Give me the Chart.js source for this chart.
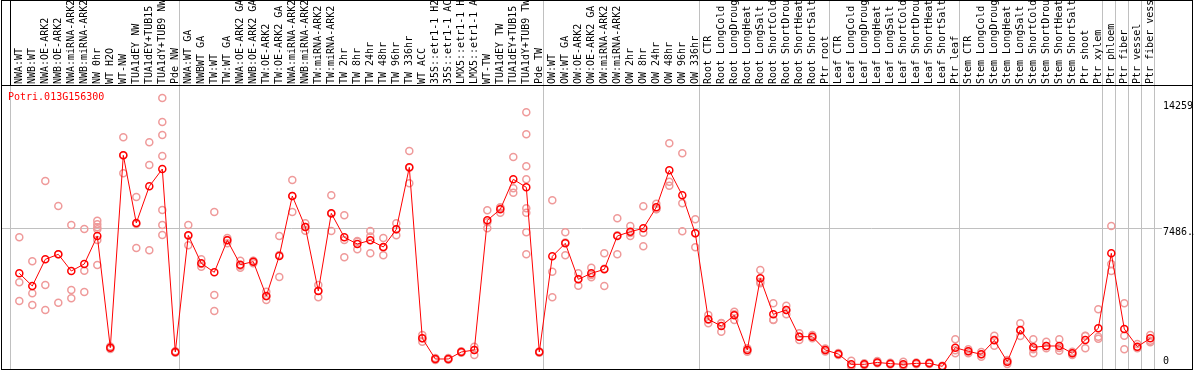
<!DOCTYPE html>
<html>
<head>
<meta charset="utf-8">
<title>Potri.013G156300</title>
<script src="https://cdn.jsdelivr.net/npm/chart.js@4.4.1/dist/chart.umd.min.js"></script>
<style>
  html, body { margin: 0; padding: 0; background: #fff; }
  #wrap { position: relative; width: 1194px; height: 370px; }
  #gene { position: absolute; left: 8px; top: 92px; font: 10px/10px "DejaVu Sans Mono", monospace; color: #ff0000; }
</style>
</head>
<body>
<div id="wrap">
  <canvas id="chart"></canvas>
  <div id="gene">Potri.013G156300</div>
</div>
<script>
const labels = [
  'NWA:WT', 'NWB:WT', 'NWA:OE-ARK2', 'NWB:OE-ARK2', 'NWA:miRNA-ARK2', 'NWB:miRNA-ARK2', 'NW 0hr', 'WT H2O', 'WT-NW',
  'TUA1dEY NW', 'TUA1dEY+TUB15 NW', 'TUA1dY+TUB9 NW', 'Pde NW',
  'NWA:WT GA', 'NWBWT GA', 'TW:WT', 'TW:WT GA', 'NWA:OE-ARK2 GA', 'NWB:OE-ARK2 GA', 'TW:OE-ARK2', 'TW:OE-ARK2 GA',
  'NWA:miRNA-ARK2 GA', 'NWB:miRNA-ARK2 GA', 'TW:miRNA-ARK2', 'TW:miRNA-ARK2 GA', 'TW 2hr', 'TW 8hr', 'TW 24hr', 'TW 48hr',
  'TW 96hr', 'TW 336hr', 'WT ACC', '35S::etr1-1 H2O', '35S::etr1-1 ACC', 'LMX5::etr1-1 H2O', 'LMX5::etr1-1 ACC', 'WT-TW',
  'TUA1dEY TW', 'TUA1dEY+TUB15 TW', 'TUA1dY+TUB9 TW', 'Pde TW',
  'OW:WT', 'OW:WT GA', 'OW:OE-ARK2', 'OW:OE-ARK2 GA', 'OW:miRNA-ARK2', 'OW:miRNA-ARK2 GA', 'OW 2hr', 'OW 8hr', 'OW 24hr',
  'OW 48hr', 'OW 96hr', 'OW 336hr',
  'Root CTR', 'Root LongCold', 'Root LongDrought', 'Root LongHeat', 'Root LongSalt', 'Root ShortCold', 'Root ShortDrought',
  'Root ShortHeat', 'Root ShortSalt', 'Ptr root',
  'Leaf CTR', 'Leaf LongCold', 'Leaf LongDrought', 'Leaf LongHeat', 'Leaf LongSalt', 'Leaf ShortCold', 'Leaf ShortDrought',
  'Leaf ShortHeat', 'Leaf ShortSalt', 'Ptr leaf',
  'Stem CTR', 'Stem LongCold', 'Stem LongDrought', 'Stem LongHeat', 'Stem LongSalt', 'Stem ShortCold', 'Stem ShortDrought',
  'Stem ShortHeat', 'Stem ShortSalt', 'Ptr shoot', 'Ptr xylem',
  'Ptr phloem', 'Ptr fiber', 'Ptr vessel', 'Ptr fiber vessel'
];

// how many samples sit between two grey separators
const groupSizes = [13, 28, 12, 10, 10, 11, 1, 1, 1, 1];

const means = [
  5080, 4400, 5831, 6100, 5205, 5581, 7083, 1091, 11412, 7781, 9748, 10678, 859,
  7119, 5617, 5134, 6851, 5545, 5706, 3864, 6010, 9229, 7566, 4132, 8299, 7012, 6654, 6851, 6493,
  7441, 10767, 1592, 483, 483, 859, 966, 7924, 8514, 10124, 9695, 859,
  5992, 6689, 4758, 5080, 5294, 7083, 7316, 7494, 8621, 10607, 9265, 7226,
  2611, 2254, 2826, 966, 4811, 2879, 3112, 1681, 1681, 966,
  751, 197, 197, 300, 233, 197, 250, 250, 89, 1091,
  894, 733, 1484, 340, 2039, 1109, 1181, 1181, 787, 1503, 2128,
  6153, 2093, 1145, 1592
];

const reps = [
  [7012, 4597, 3595], [5724, 4007, 3381], [10034, 4454, 3112], [8693, 6100, 3506], [7673, 4185, 3738],
  [7459, 5223, 4078], [7906, 7709, 7549, 7441, 6868, 5527], [1020, 1110, 1150], [12377, 11413, 10446],
  [9176, 7728, 6439], [12109, 10893, 6314], [14488, 13200, 12503, 11376, 8478, 7673, 7137], [820, 880, 900],
  [7673, 7102, 6582], [5831, 5582, 5438], [8371, 3917, 3059], [6700, 6868, 6980], [5760, 5490, 5384],
  [5742, 5617, 5760], [4096, 3849, 3649], [7083, 6060, 4883], [10088, 9229, 8371], [7763, 7566, 7370],
  [4454, 4150, 3792], [9265, 8280, 7351], [8192, 6868, 5938], [6779, 6815, 6368], [7351, 7050, 6153],
  [6976, 6460, 6046], [7763, 7441, 7119], [11644, 10750, 9909], [1771, 1592, 1413], [430, 483, 540],
  [440, 483, 530], [859, 820, 900], [1145, 966, 698], [8460, 7820, 7494], [8621, 8586, 8335],
  [11322, 9640, 9409], [13719, 12539, 10820, 10124, 8567, 8335, 7280, 6100], [880, 820, 870],
  [8997, 5170, 3792], [7280, 6740, 6046], [5080, 4776, 4418], [5384, 4990, 4865], [6153, 5329, 4400],
  [8031, 7118, 6100], [7620, 7245, 7083], [8675, 7262, 6528], [8818, 8531, 8514], [12055, 9999, 9784],
  [11519, 8836, 7333], [7977, 7226, 6475],
  [2844, 2592, 2397], [2397, 2416, 1949], [3023, 2879, 2576], [1055, 966, 877], [5259, 4631, 4543],
  [3470, 2591, 2576], [3345, 3112, 2879], [1860, 1681, 1503], [1770, 1681, 1592], [880, 966, 1050],
  [700, 751, 800], [393, 120, 80], [250, 197, 144], [370, 300, 250], [280, 233, 186], [340, 150, 107],
  [300, 250, 200], [290, 250, 210], [120, 89, 58], [1538, 948, 787],
  [1001, 894, 787], [859, 733, 608], [1736, 1517, 1199], [429, 340, 215], [2397, 2003, 1717],
  [1538, 1002, 787], [1413, 1181, 1055], [1538, 1075, 930], [877, 787, 698], [1736, 1718, 1055],
  [3148, 1681, 1574], [7620, 5581, 5205], [3470, 1736, 1001], [1288, 1092, 1055], [1771, 1467, 1378]
];

// the "0" label is lifted off the bottom edge as in the original
const yTicks = [574, 7486.5, 14259];
const yTickLabels = ['0', '7486.5', '14259'];

const mono = { family: 'DejaVu Sans Mono', size: 10 };
const grey = '#c0c0c0';

const edges = [];
let acc = 0;
groupSizes.forEach(n => {
  edges.push(acc - 0.64);
  acc += n;
});
edges.push(acc - 0.64);

const meanPoints = means.map((v, i) => ({ x: i, y: v }));
const repPoints = reps.flatMap((r, i) => r.map(v => ({ x: i, y: v })));

const xMin = -1.408, xMax = 87.9;
const yMin = -53.7, yMax = 15132;

const frame = {
  id: 'frame',
  afterDraw(chart) {
    const c = chart.ctx;
    c.save();
    c.strokeStyle = '#000';
    c.lineWidth = 1;
    c.strokeRect(1.5, 0.5, 1191, 369);
    c.beginPath();
    c.moveTo(1, 85.5);
    c.lineTo(1193, 85.5);
    c.stroke();
    c.restore();
  }
};

const noPad = s => {
  s.paddingLeft = 0;
  s.paddingRight = 0;
  s.paddingTop = 0;
  s.paddingBottom = 0;
};

const ctx = document.querySelector('#chart').getContext('2d');
const chart = new Chart(ctx, {
  type: 'line',
  data: {
    datasets: [
      {
        type: 'line',
        label: 'Potri.013G156300',
        data: meanPoints,
        borderColor: '#ff0000',
        borderWidth: 1,
        pointRadius: 3.5,
        pointBorderWidth: 1.5,
        pointBorderColor: '#ff0000',
        pointBackgroundColor: 'rgba(0,0,0,0)',
        tension: 0,
        order: 1
      },
      {
        type: 'scatter',
        label: 'replicates',
        data: repPoints,
        showLine: false,
        pointRadius: 3.5,
        pointBorderWidth: 1.5,
        pointBorderColor: '#ef9a9a',
        pointBackgroundColor: 'rgba(0,0,0,0)',
        order: 2
      }
    ]
  },
  options: {
    responsive: true,
    maintainAspectRatio: false,
    animation: false,
    layout: { autoPadding: false, padding: { left: 1, right: 0, top: 0, bottom: 1 } },
    plugins: { legend: { display: false }, tooltip: { enabled: false } },
    scales: {
      x: {
        type: 'linear',
        position: 'top',
        min: xMin,
        max: xMax,
        weight: 1,
        afterBuildTicks: s => { s.ticks = labels.map((_, i) => ({ value: i })); },
        afterFit: s => { s.height = 86; noPad(s); },
        grid: { display: false, drawTicks: false },
        border: { display: false },
        ticks: {
          autoSkip: false,
          minRotation: 90,
          maxRotation: 90,
          padding: 2,
          labelOffset: 12,
          color: '#000',
          font: mono,
          callback: v => labels[v]
        }
      },
      groups: {
        type: 'linear',
        position: 'top',
        min: xMin,
        max: xMax,
        weight: 0,
        afterBuildTicks: s => { s.ticks = edges.map(v => ({ value: v })); },
        afterFit: s => { s.height = 0; noPad(s); },
        ticks: { display: false },
        grid: {
          color: grey,
          tickColor: c => (c.index === 0 ? '#000' : grey),
          drawTicks: true,
          tickLength: 86,
          lineWidth: 1
        },
        border: { display: false }
      },
      y: {
        type: 'linear',
        position: 'right',
        min: yMin,
        max: yMax,
        afterBuildTicks: s => { s.ticks = yTicks.map(v => ({ value: v })); },
        afterFit: s => { s.width = 32; noPad(s); },
        grid: {
          drawTicks: false,
          color: c => (c.tick && c.tick.value === 7486.5 ? grey : 'rgba(0,0,0,0)')
        },
        border: { display: false },
        ticks: {
          padding: 1,
          labelOffset: 4,
          color: '#000',
          font: mono,
          callback: (v, i) => yTickLabels[i]
        }
      }
    }
  },
  plugins: [frame]
});
</script>
</body>
</html>
